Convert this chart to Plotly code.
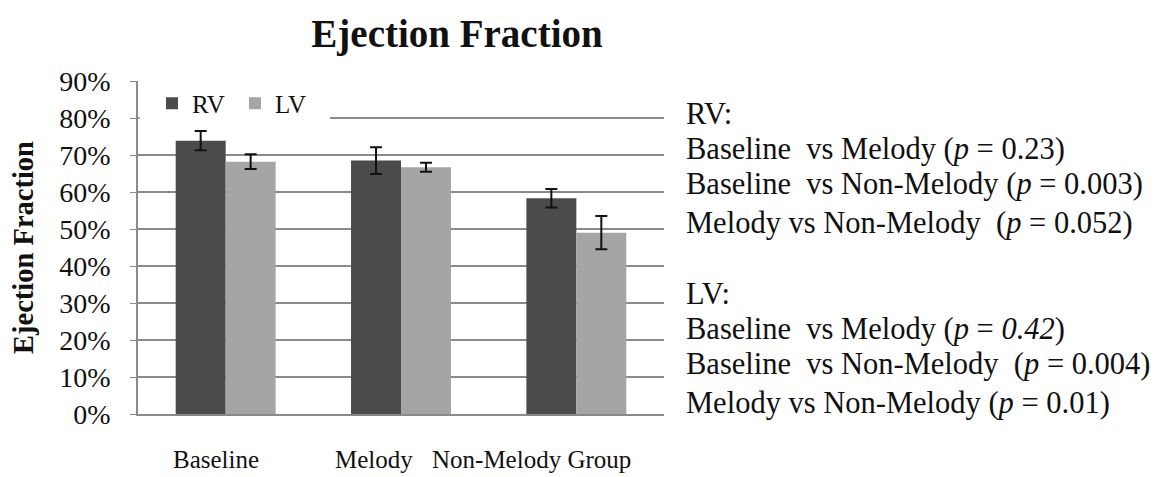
import plotly.graph_objects as go

categories = ["Baseline", "Melody", "Non-Melody Group"]
rv_values = [0.740, 0.686, 0.584]
lv_values = [0.683, 0.668, 0.491]
rv_err = [0.026, 0.036, 0.025]
lv_err = [0.020, 0.012, 0.045]
tick_vals = [0, 0.1, 0.2, 0.3, 0.4, 0.5, 0.6, 0.7, 0.8, 0.9]
tick_text = ["0%", "10%", "20%", "30%", "40%", "50%", "60%", "70%", "80%", "90%"]
stat_lines = [
    "RV:",
    "Baseline  vs Melody (<i>p</i> = 0.23)",
    "Baseline  vs Non-Melody (<i>p</i> = 0.003)",
    "Melody vs Non-Melody  (<i>p</i> = 0.052)",
    "LV:",
    "Baseline  vs Melody (<i>p</i> = <i>0.42</i>)",
    "Baseline  vs Non-Melody  (<i>p</i> = 0.004)",
    "Melody vs Non-Melody (<i>p</i> = 0.01)",
]
# layout helpers (page pixels)
stat_y_px = [114, 149, 184, 223, 294, 329, 364, 403]
label_shift = [-10, -27, -45]

FONT = "Liberation Serif"
W, H = 1168, 477
L = 138
T = 81
plot_bottom = 414
plot_right = 664
B = H - plot_bottom
R = W - plot_right
plot_h = H - T - B
plot_w = W - L - R


def py(page_y):
    return (plot_bottom - page_y) / plot_h


def pxx(page_x):
    return (page_x - L) / plot_w


fig = go.Figure()
fig.add_trace(go.Bar(
    name="RV", x=categories, y=rv_values,
    marker=dict(color="#4b4b4b", line=dict(width=0)),
    error_y=dict(type="data", array=rv_err, color="#111111", thickness=2, width=6),
))
fig.add_trace(go.Bar(
    name="LV", x=categories, y=lv_values,
    marker=dict(color="#a5a5a5", line=dict(width=0)),
    error_y=dict(type="data", array=lv_err, color="#111111", thickness=2, width=6),
))

# white box behind legend (covers gridlines like the original)
fig.add_shape(type="rect", xref="paper", yref="paper",
              x0=pxx(139.5), x1=pxx(330), y0=py(123), y1=py(76),
              fillcolor="white", line=dict(width=0), layer="above")

for txt, ypx in zip(stat_lines, stat_y_px):
    fig.add_annotation(text=txt, xref="paper", yref="paper", x=pxx(684), y=py(ypx),
                       xanchor="left", yanchor="middle", showarrow=False,
                       font=dict(family=FONT, size=30.5, color="#111111"))

for cat, sh in zip(categories, label_shift):
    fig.add_annotation(text=cat, xref="x", yref="paper", x=cat, y=0,
                       xanchor="center", yanchor="middle", xshift=sh, yshift=-45,
                       showarrow=False, font=dict(family=FONT, size=25, color="#111111"))

fig.update_layout(
    width=W, height=H,
    margin=dict(l=L, r=R, t=T, b=B, autoexpand=False),
    paper_bgcolor="white", plot_bgcolor="white",
    barmode="group", bargap=0.43, bargroupgap=0,
    title=dict(text="<b>Ejection Fraction</b>", xref="container", yref="container",
               x=457 / W, y=1 - 33 / H, xanchor="center", yanchor="middle",
               font=dict(family=FONT, size=39, color="#111111")),
    font=dict(family=FONT, size=22, color="#111111"),
    legend=dict(orientation="h", x=pxx(152), y=py(103.5), xanchor="left", yanchor="middle",
                bgcolor="rgba(0,0,0,0)", font=dict(family=FONT, size=25, color="#111111"),
                itemwidth=30, traceorder="normal", entrywidth=38),
    showlegend=True,
)
fig.update_yaxes(range=[0, 0.9015], tickvals=tick_vals, ticktext=tick_text,
                 showgrid=True, gridcolor="#8a8a8a", gridwidth=1.5,
                 showline=True, linecolor="#8a8a8a", linewidth=1.5,
                 ticks="outside", ticklen=6, tickcolor="#8a8a8a",
                 ticklabelstandoff=14,
                 tickfont=dict(family=FONT, size=28, color="#111111"),
                 zeroline=False,
                 title=dict(text="<b>Ejection Fraction</b>", standoff=17,
                            font=dict(family=FONT, size=28.5, color="#111111")))
fig.update_xaxes(showline=True, linecolor="#8a8a8a", linewidth=1.5,
                 ticks="", showticklabels=False)

fig.write_html("out.html", config={"displayModeBar": False},
               post_script="document.body.style.margin='0px';")
